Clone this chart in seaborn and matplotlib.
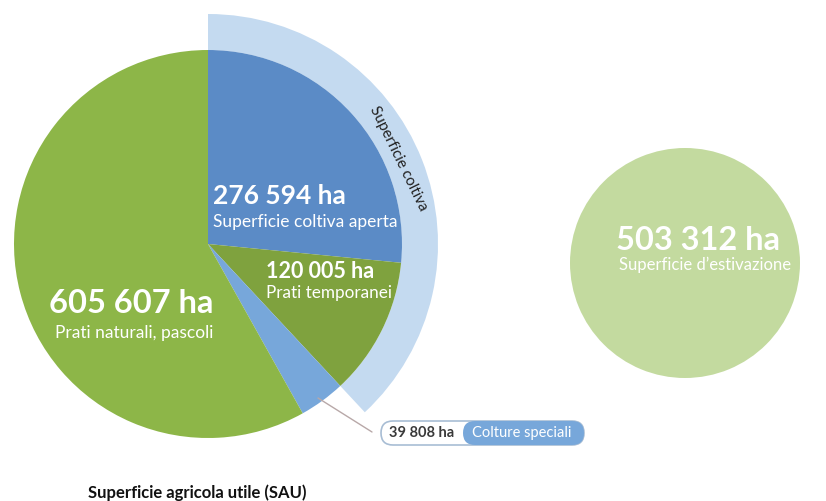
import matplotlib
matplotlib.use('Agg')
import matplotlib.pyplot as plt
from matplotlib.patches import FancyBboxPatch
import seaborn as sns

# superficie agricola utile (ha)
labels = ['Superficie coltiva aperta', 'Prati temporanei', 'Colture speciali', 'Prati naturali, pascoli']
values = [276594, 120005, 39808, 605607]
colors = ['#5b8bc6', '#7fa23e', '#77a7da', '#8db648']

ring_label = 'Superficie coltiva'
estivazione = 503312
estivazione_label = "Superficie d\u2019estivazione"


def fmt(v):
    return f"{v:,}".replace(',', ' ') + ' ha'


sns.set_theme(style='white')
plt.rcParams['font.family'] = ['Lato', 'DejaVu Sans']

fig = plt.figure(figsize=(8.26, 5.01), dpi=100)
ax = fig.add_axes([0, 0, 1, 1])

cx, cy, r = 208, 257, 194

# outer ring: superficie coltiva = aperta + prati temporanei
coltiva = values[0] + values[1]
ax.pie([coltiva, sum(values) - coltiva], radius=230, center=(cx, cy), startangle=90,
       counterclock=False, colors=['#c4daf0', 'none'],
       wedgeprops=dict(width=36, linewidth=0), frame=True)

ax.pie(values, radius=r, center=(cx, cy), startangle=90, counterclock=False,
       colors=colors, wedgeprops=dict(linewidth=0), frame=True)

# superficie d'estivazione
ax.pie([estivazione], radius=115, center=(685, 238), colors=['#c3da9f'],
       wedgeprops=dict(linewidth=0), frame=True)

ax.set_xlim(0, 826)
ax.set_ylim(0, 501)
ax.set_aspect('equal')
ax.axis('off')

white = 'white'
ax.text(213, 297, fmt(values[0]), color=white, fontsize=19, fontweight='bold', va='baseline')
ax.text(213, 274, labels[0], color=white, fontsize=12.5, va='baseline')
ax.text(266, 223, fmt(values[1]), color=white, fontsize=15.5, fontweight='bold', va='baseline')
ax.text(266, 203, labels[1], color=white, fontsize=12.3, va='baseline')
ax.text(213, 188, fmt(values[3]), color=white, fontsize=23.5, fontweight='bold', va='baseline', ha='right')
ax.text(213, 163, labels[3], color=white, fontsize=12.5, va='baseline', ha='right')
ax.text(698, 251, fmt(estivazione), color=white, fontsize=23.5, fontweight='bold', va='baseline', ha='center')
ax.text(705, 231, estivazione_label, color=white, fontsize=12, va='baseline', ha='center')

ax.text(398, 343, ring_label, color='#222222', fontsize=11, rotation=-64,
        ha='center', va='center', rotation_mode='anchor')

# colture speciali callout
ax.plot([318, 372], [103, 69], color='#b8a8a8', lw=1)
ax.add_patch(FancyBboxPatch((381, 56), 203, 24, boxstyle='round,pad=0,rounding_size=12',
                            fc='white', ec='#a8bdd4', lw=1.2))
ax.add_patch(FancyBboxPatch((463, 56), 121, 24, boxstyle='round,pad=0,rounding_size=12',
                            fc='#77a7da', ec='none'))
ax.text(422, 68, fmt(values[2]), color='#3a3a3a', fontsize=10.5, fontweight='bold', ha='center', va='center')
ax.text(522, 68, labels[2], color='white', fontsize=10.5, ha='center', va='center')

ax.text(88, 3, 'Superficie agricola utile (SAU)', color='#111111', fontsize=12,
        fontweight='bold', va='baseline')

fig.savefig('out.png', dpi=100)
